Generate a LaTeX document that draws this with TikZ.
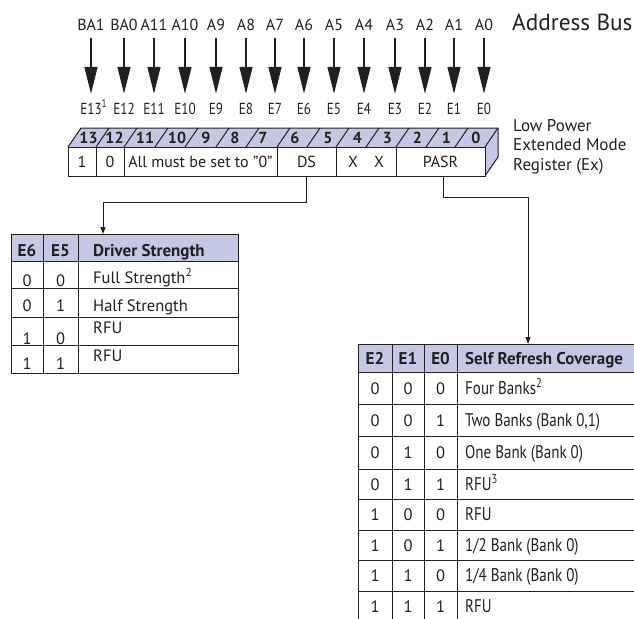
\documentclass[tikz,border=0pt]{standalone}
\usepackage{fontspec}
\setmainfont{PT Sans}
\newfontfamily\condfont[FakeStretch=0.82]{PT Sans}
\usetikzlibrary{arrows.meta}
\definecolor{lav}{RGB}{197,200,228}
\definecolor{ink}{RGB}{35,31,32}
\tikzset{
  busarrow/.style={draw=ink, line width=1.3pt, -{Triangle[width=13pt,length=27pt]}},
  conn/.style={draw=ink, line width=1pt, -{Triangle[width=5pt,length=7pt]}},
  lbl/.style={inner sep=0pt, text height=10pt, text depth=0pt, anchor=base, font=\fontsize{16}{18}\selectfont, text=ink},
  elbl/.style={lbl, font=\condfont\fontsize{16}{18}\selectfont},
  bitnum/.style={inner sep=0pt, anchor=center, font=\fontsize{16}{18}\selectfont\bfseries, text=ink},
  cell/.style={draw=ink, line width=1pt, fill=white, inner sep=0pt, minimum height=29pt, font=\fontsize{16}{18}\selectfont, text=ink},
  tline/.style={draw=ink, line width=1pt},
  ttxt/.style={inner sep=0pt, anchor=base, font=\fontsize{16.5}{18}\selectfont, text=ink},
  thdr/.style={inner sep=0pt, anchor=base, font=\fontsize{17}{19}\selectfont\bfseries, text=ink},
  ctxt/.style={inner sep=0pt, anchor=base west, font=\condfont\fontsize{18.3}{20}\selectfont, text=ink},
  side/.style={inner sep=0pt, anchor=base west, font=\fontsize{17}{19}\selectfont, text=ink},
}
\begin{document}
\begin{tikzpicture}[x=1pt,y=-1pt]
\useasboundingbox (0,0) rectangle (634,618);
\clip (0,0) rectangle (634,618);

% address bus labels, arrows, E labels
\foreach \lab/\elab/\xx/\i in {BA1/E13\rlap{\textsuperscript{1}}/91/13, BA0/E12/124/12, A11/E11/154/11, A10/E10/185/10, A9/E9/216/9, A8/E8/246/8, A7/E7/275/7, A6/E6/304/6, A5/E5/334/5, A4/E4/364/4, A3/E3/395/3, A2/E2/425/2, A1/E1/454/1, A0/E0/484/0}{
  \node[lbl] (a\i) at (\xx,31) {\lab};
  \node[elbl] (e\i) at (\xx,114) {\elab};
  \draw[busarrow, shorten <=7pt, shorten >=10pt] (a\i) -- (e\i);
}
\node[side, font=\fontsize{23.3}{25}\selectfont] (bus) at (512,31) {Address Bus};

% register: top and right faces
\fill[lav] (68,147) -- (81,128) -- (498,128) -- (485,147) -- cycle;
\fill[lav] (485,147) -- (498,128) -- (498,157) -- (485,176) -- cycle;
\draw[tline, line join=round] (68,147) -- (81,128) -- (498,128) -- (498,157) -- (485,176);
\draw[tline] (485,147) -- (498,128);
\foreach \b in {96,124,155,185,216,246,277,307,336,366,396,426,455}
  \draw[tline] (\b,147) -- ++(13,-19);
\foreach \n/\xx in {13/88.5,12/114.5,11/145,10/177,9/206,8/235,7/263,6/295,5/328,4/357.5,3/387.5,2/417.5,1/446.5,0/476}
  \node[bitnum] (b\n) at (\xx,138) {\n};

% register: front face cells
\node[cell, minimum width=28pt] (c13) at (82,161.5) {1};
\node[cell, minimum width=28pt] (c12) at (110,161.5) {0};
\node[cell, minimum width=153pt] (call) at (200.5,161.5) {All must be set to "0"};
\node[cell, minimum width=59pt] (ds) at (306.5,161.5) {DS};
\node[cell, minimum width=60pt] (xx) at (366,161.5) {X\hspace{16pt}X};
\node[cell, minimum width=89pt] (pasr) at (440.5,161.5) {PASR};

\node[side] (lp1) at (513,131) {Low Power};
\node[side] (lp2) at (513,150.5) {Extended Mode};
\node[side] (lp3) at (513,170) {Register (Ex)};

% connectors
\coordinate (dsin) at (103,234);
\coordinate (pasrin) at (528,344);
\draw[conn] (ds.south) -- ++(0,26) -| (dsin);
\draw[conn] ([xshift=2.5pt]pasr.south) -- ++(0,21) -| (pasrin);

% table 1: driver strength
\fill[lav] (11,234) rectangle (238,261);
\draw[tline] (11,234) rectangle (238,373);
\foreach \yy in {261,288,317,345} \draw[tline] (11,\yy) -- (238,\yy);
\foreach \xx in {43,78} \draw[tline] (\xx,234) -- (\xx,373);
\node[thdr] (h1a) at (27,256) {E6};
\node[thdr] (h1b) at (60.5,256) {E5};
\node[thdr, anchor=base west] (h1c) at (93,256) {Driver Strength};
\foreach \p/\q/\t/\yd/\yt [count=\r] in {0/0/{Full Strength\textsuperscript{2}}/286/283, 0/1/{Half Strength}/311/311, 1/0/RFU/344/333, 1/1/RFU/369/361}{
  \node[ttxt] (d\r a) at (27,\yd) {\p};
  \node[ttxt] (d\r b) at (60.5,\yd) {\q};
  \node[ttxt, anchor=base west] (d\r c) at (93,\yt) {\t};
}

% table 2: self refresh coverage
\fill[lav] (358,344) rectangle (640,372);
\draw[tline] (640,344) -- (358,344) -- (358,625);
\foreach \yy in {372,404,436,469,499,530,560,591} \draw[tline] (358,\yy) -- (640,\yy);
\foreach \xx in {392,424,457} \draw[tline] (\xx,344) -- (\xx,625);
\node[thdr] (h2a) at (375,364) {E2};
\node[thdr] (h2b) at (408,364) {E1};
\node[thdr] (h2c) at (440.5,364) {E0};
\node[thdr, anchor=base west] (h2d) at (465,364) {Self Refresh Coverage};
\foreach \p/\q/\s/\t/\yy [count=\r] in {0/0/0/{Four Banks\textsuperscript{2}}/394, 0/0/1/{Two Banks (Bank 0,1)}/426, 0/1/0/{One Bank (Bank 0)}/458.5, 0/1/1/{RFU\textsuperscript{3}}/490, 1/0/0/RFU/520.5, 1/0/1/{1/2 Bank (Bank 0)}/551, 1/1/0/{1/4 Bank (Bank 0)}/581.5, 1/1/1/RFU/612}{
  \node[ttxt] (s\r a) at (375,\yy) {\p};
  \node[ttxt] (s\r b) at (408,\yy) {\q};
  \node[ttxt] (s\r c) at (440.5,\yy) {\s};
  \node[ctxt] (s\r d) at (465,\yy) {\t};
}
\end{tikzpicture}
\end{document}
